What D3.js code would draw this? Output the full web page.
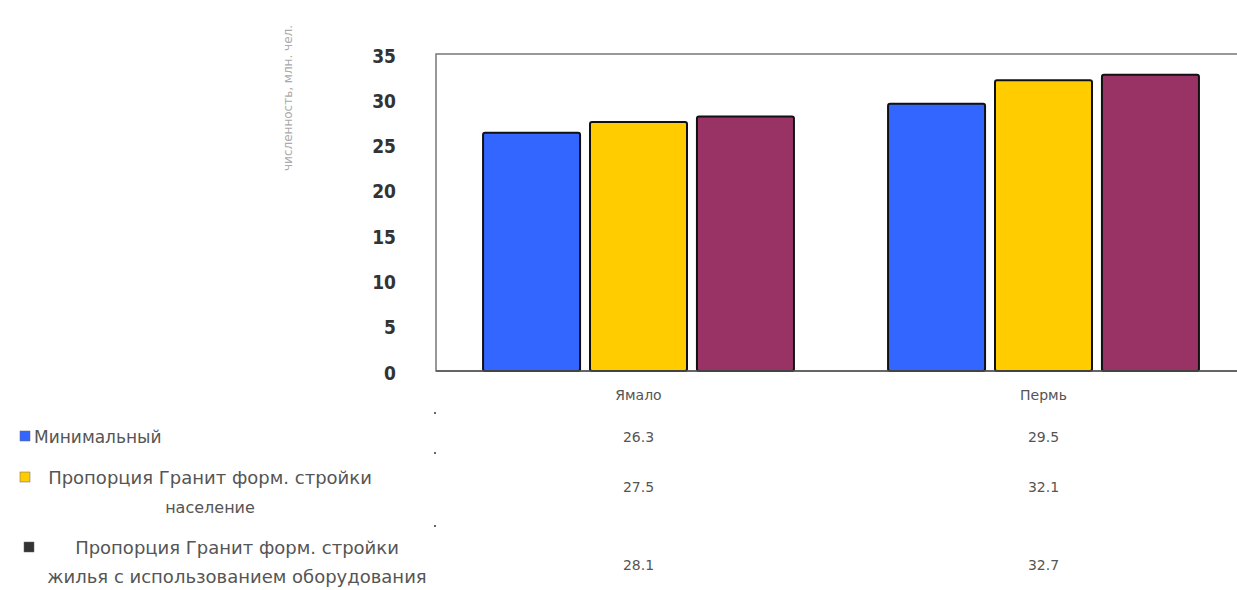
<!DOCTYPE html>
<html><head><meta charset="utf-8">
<script src="https://cdn.jsdelivr.net/npm/d3@7"></script>
<style>body{margin:0;background:#fff}svg{display:block}</style>
</head><body><svg id="c" width="1237" height="590"></svg>
<script>
const categories = ["Ямало", "Пермь"];
const seriesLines = [["Минимальный"], ["Пропорция Гранит форм. стройки", "население"], ["Пропорция Гранит форм. стройки", "жилья с использованием оборудования"]];
const values = [
  [26.3, 29.5],
  [27.5, 32.1],
  [28.1, 32.7]
];
const yTicks = [0, 5, 10, 15, 20, 25, 30, 35];
const colors = ["#3366ff", "#ffcc00", "#993366"];
const yTitle = "численность, млн. чел.";

(function () {
const svg = d3.select("#c");
const pl = 436, pr = 1246, pt = 54, pb = 371;
const x = d3.scaleBand().domain(categories).range([pl, pr]).paddingInner(0).paddingOuter(0);
const y = d3.scaleLinear().domain([0, 35]).range([pb, pt]);
const xs = d3.scaleBand().domain(d3.range(values.length)).range([0, x.bandwidth()]).paddingInner(0.093).paddingOuter(0.44);

svg.append("rect").attr("x", pl).attr("y", pt).attr("width", pr - pl).attr("height", pb - pt)
  .attr("fill", "none").attr("stroke", "#777").attr("stroke-width", 1.5);

const yAxis = d3.axisLeft(y).tickValues(yTicks).tickSize(0).tickPadding(0);
const ga = svg.append("g").attr("transform", `translate(396,2)`).call(yAxis);
ga.select(".domain").remove();
ga.selectAll("text").attr("font-family", "Liberation Sans Narrow, DejaVu Sans Condensed, DejaVu Sans").attr("font-size", 19).attr("font-weight", "bold").attr("fill", "#333");

svg.append("text").attr("transform", "translate(292,98) rotate(-90)").attr("text-anchor", "middle")
  .attr("font-family", "DejaVu Sans").attr("font-size", 12).attr("fill", "#aaa").text(yTitle);

values.forEach((vals, si) => {
  svg.append("g").selectAll("rect").data(vals).join("rect")
    .attr("x", (d, i) => x(categories[i]) + xs(si))
    .attr("y", d => y(d))
    .attr("width", xs.bandwidth())
    .attr("height", d => pb - y(d))
    .attr("rx", 2)
    .attr("fill", colors[si])
    .attr("stroke", "#111")
    .attr("stroke-width", 2);
});
svg.append("line").attr("x1", pl).attr("x2", pr).attr("y1", pb).attr("y2", pb).attr("stroke", "#555").attr("stroke-width", 1.5);

svg.append("g").selectAll("text").data(categories).join("text")
  .attr("x", d => x(d) + x.bandwidth() / 2).attr("y", 400).attr("text-anchor", "middle")
  .attr("font-family", "DejaVu Sans").attr("font-size", 14).attr("fill", "#555").text(d => d);

const rowY = [437, 487, 565];
const firstLineY = [437, 478, 548];
seriesLines.forEach((lines, si) => {
  const g = svg.append("g");
  g.append("rect").attr("x", si === 2 ? 24 : 20).attr("y", firstLineY[si] - 6).attr("width", 10).attr("height", 10)
    .attr("fill", si === 2 ? "#333" : colors[si]).attr("stroke", "#666").attr("stroke-width", 0.5);
  if (lines.length === 1) {
    g.append("text").attr("x", 34).attr("y", firstLineY[si] + 6).attr("font-family", "DejaVu Sans").attr("font-size", 17).attr("fill", "#555").text(lines[0]);
  } else {
    const cx = si === 1 ? 210 : 237;
    g.append("text").attr("x", cx).attr("y", firstLineY[si] + 6).attr("text-anchor", "middle").attr("font-family", "DejaVu Sans").attr("font-size", 18).attr("fill", "#555").text(lines[0]);
    g.append("text").attr("x", cx).attr("y", firstLineY[si] + 35).attr("text-anchor", "middle").attr("font-family", "DejaVu Sans").attr("font-size", si === 1 ? 16 : 18).attr("fill", "#555").text(lines[1]);
  }
  g.selectAll(".v").data(values[si]).join("text").attr("class", "v")
    .attr("x", (d, i) => x(categories[i]) + x.bandwidth() / 2).attr("y", rowY[si] + 5).attr("text-anchor", "middle")
    .attr("font-family", "DejaVu Sans").attr("font-size", 14).attr("fill", "#555").text(d => d.toFixed(1));
});
[412, 452, 525].forEach(yy => svg.append("rect").attr("x", 434).attr("y", yy).attr("width", 2).attr("height", 2).attr("fill", "#666"));
})();
</script></body></html>
